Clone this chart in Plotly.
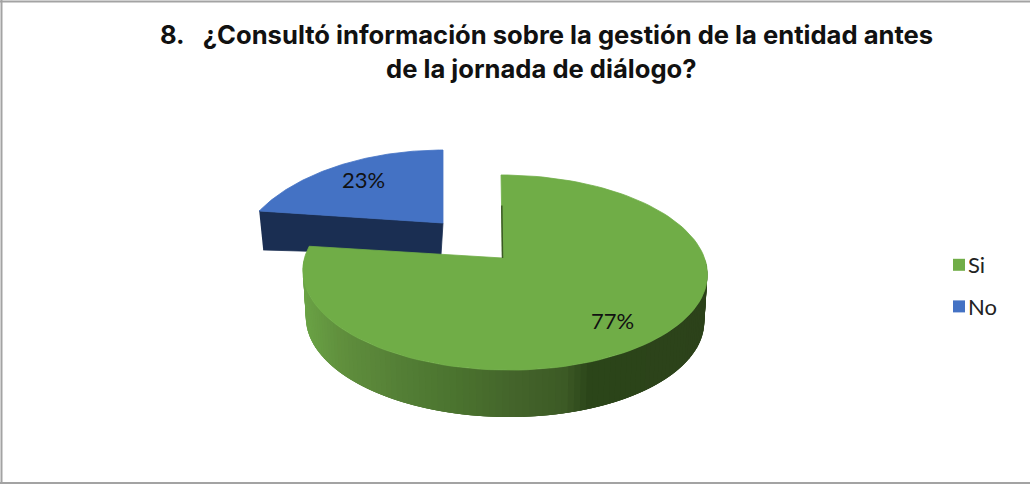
import math
import plotly.graph_objects as go

categories = ["Si", "No"]
values = [77, 23]
colors_top = ["#70ad47", "#4472c4"]
blue_wall = "#1a2e52"
title_lines = ["8.\u00a0\u00a0\u00a0¿Consultó información sobre la gestión de la entidad antes",
               "de la jornada de diálogo?"]
FONT = "Lato"
TITLE_FONT = "Inter"

# projection settings: disc centre x, apex x, apex y, radius x, radius y, perspective, skew
GREEN = dict(cx=504.5, ax=502.5, cy=258, rx=200, ry=95.4, k=0.149, sk=-4)
BLUE = dict(cx=443, ax=443, cy=223, rx=194, ry=100.5, k=0.377, sk=0)
GREEN_DEPTH = 47
wall_stops = [(303, "#6aa345"), (340, "#608f3d"), (400, "#547f36"), (460, "#4a722e"),
              (510, "#44652b"), (565, "#3c5a25"), (590, "#2b4519"), (707, "#2c421a")]


def proj(p, theta, f=1.0):
    u, v = f * math.sin(theta), f * math.cos(theta)
    s = 1 / (1 + p["k"] * v)
    return p["cx"] + (p["rx"] * u + p["sk"] * v) * s, p["cy"] - p["ry"] * v * s


def rgb(h):
    return tuple(int(h[i:i + 2], 16) for i in (1, 3, 5))


def wall_color(x):
    for (a, ca), (b, cb) in zip(wall_stops, wall_stops[1:]):
        if x <= b:
            t = max(0, (x - a) / (b - a))
            c = [round(m + (n - m) * t) for m, n in zip(rgb(ca), rgb(cb))]
            return f"rgb({c[0]},{c[1]},{c[2]})"
    return wall_stops[-1][1]


total = sum(values)
green_end = values[0] / total * 2 * math.pi
fig = go.Figure()


def poly(xs, ys, color, name=None, edge=0.8):
    fig.add_trace(go.Scatter(x=xs, y=ys, mode="lines", fill="toself", fillcolor=color,
                             line=dict(color=color, width=edge), hoverinfo="skip",
                             showlegend=False, name=name))


def sector(p, a0, a1, n=120):
    pts = [proj(p, a0 + (a1 - a0) * i / n) for i in range(n + 1)]
    return [p["ax"]] + [q[0] for q in pts] + [p["ax"]], [p["cy"]] + [q[1] for q in pts] + [p["cy"]]


# exploded blue slice: cut wall, then top
bx, by = proj(BLUE, green_end)
poly([bx, BLUE["ax"], BLUE["ax"] - 2, bx + 4], [by, BLUE["cy"], BLUE["cy"] + 32, by + 39], blue_wall)
poly(*sector(BLUE, green_end, 2 * math.pi), colors_top[1], categories[1])

# green slice rim, drawn as overlapping strips so no seams show
N = 110
bottom = dict(GREEN, rx=GREEN["rx"] * 0.985, cy=GREEN["cy"] + GREEN_DEPTH)
for i in range(N):
    a0 = math.pi / 2 + math.pi * i / N
    a1 = math.pi / 2 + math.pi * (i + 3) / N if i < N - 3 else 3 * math.pi / 2
    am = math.pi / 2 + math.pi * (i + 1) / N
    t0, t1 = proj(GREEN, a0), proj(GREEN, a1)
    tm = proj(GREEN, am)
    b0, b1 = proj(bottom, a0), proj(bottom, a1)
    bm = proj(bottom, am)
    poly([t0[0], tm[0], t1[0], b1[0], bm[0], b0[0]], [t0[1], tm[1], t1[1], b1[1], bm[1], b0[1]],
         wall_color((t0[0] + tm[0]) / 2), edge=0)

# green top
poly(*sector(GREEN, 0, green_end), colors_top[0], categories[0])
# inner cut edge sliver
top_edge = proj(GREEN, 0, 0.6)
fig.add_trace(go.Scatter(x=[GREEN["ax"], top_edge[0] - 0.5], y=[GREEN["cy"], top_edge[1]], mode="lines",
                         line=dict(color="#3c5a25", width=1.5), hoverinfo="skip", showlegend=False))

# legend
for c, col in zip(categories, colors_top):
    fig.add_trace(go.Scatter(x=[None], y=[None], mode="markers", name=c, legendgroup=c,
                             marker=dict(symbol="square", size=12, color=col)))

# data labels
lab_pos = [proj(GREEN, green_end / 2, 0.77), proj(BLUE, (green_end + 2 * math.pi) / 2, 0.73)]
lab_shift = [(-6, -2), (-2, -2)]
for v, (x, y), (dx, dy) in zip(values, lab_pos, lab_shift):
    fig.add_annotation(x=x, y=y, text=f"{v}%", showarrow=False, xshift=dx, yshift=dy,
                       font=dict(family=FONT, size=22, color="#111111"))

title_font = dict(family=TITLE_FONT, size=25.6, color="#111111", weight="bold")
fig.add_annotation(x=541, y=68, text=title_lines[1], showarrow=False, font=title_font)

gray = "#a3a3a3"
shapes = [dict(type="line", x0=x0, y0=y0, x1=x1, y1=y1, line=dict(color=gray, width=2))
          for x0, y0, x1, y1 in [(1.5, 0, 1.5, 484), (0, 1.5, 1030, 1.5), (0, 483, 1030, 483)]]

fig.update_layout(
    width=1030, height=484, margin=dict(l=0, r=0, t=0, b=0, pad=0),
    paper_bgcolor="white", plot_bgcolor="white",
    xaxis=dict(range=[0, 1030], visible=False, fixedrange=True),
    yaxis=dict(range=[484, 0], visible=False, fixedrange=True),
    shapes=shapes,
    title=dict(text=title_lines[0], x=546.5 / 1030, xanchor="center", y=1 - 35 / 484, yanchor="middle",
               font=title_font),
    legend=dict(x=939 / 1030, y=1 - 286 / 484, xanchor="left", yanchor="middle", xref="paper", yref="paper",
                tracegroupgap=10, bgcolor="rgba(0,0,0,0)", font=dict(family=FONT, size=22, color="#222222")),
    showlegend=True,
)
fig.write_html(
    "out.html",
    config={"displayModeBar": False},
    post_script=("document.body.style.margin='0';document.body.style.overflow='hidden';"
                 "document.querySelectorAll('.legendtext').forEach(function(t){"
                 "t.setAttribute('x', parseFloat(t.getAttribute('x')) - 11);});"),
)
